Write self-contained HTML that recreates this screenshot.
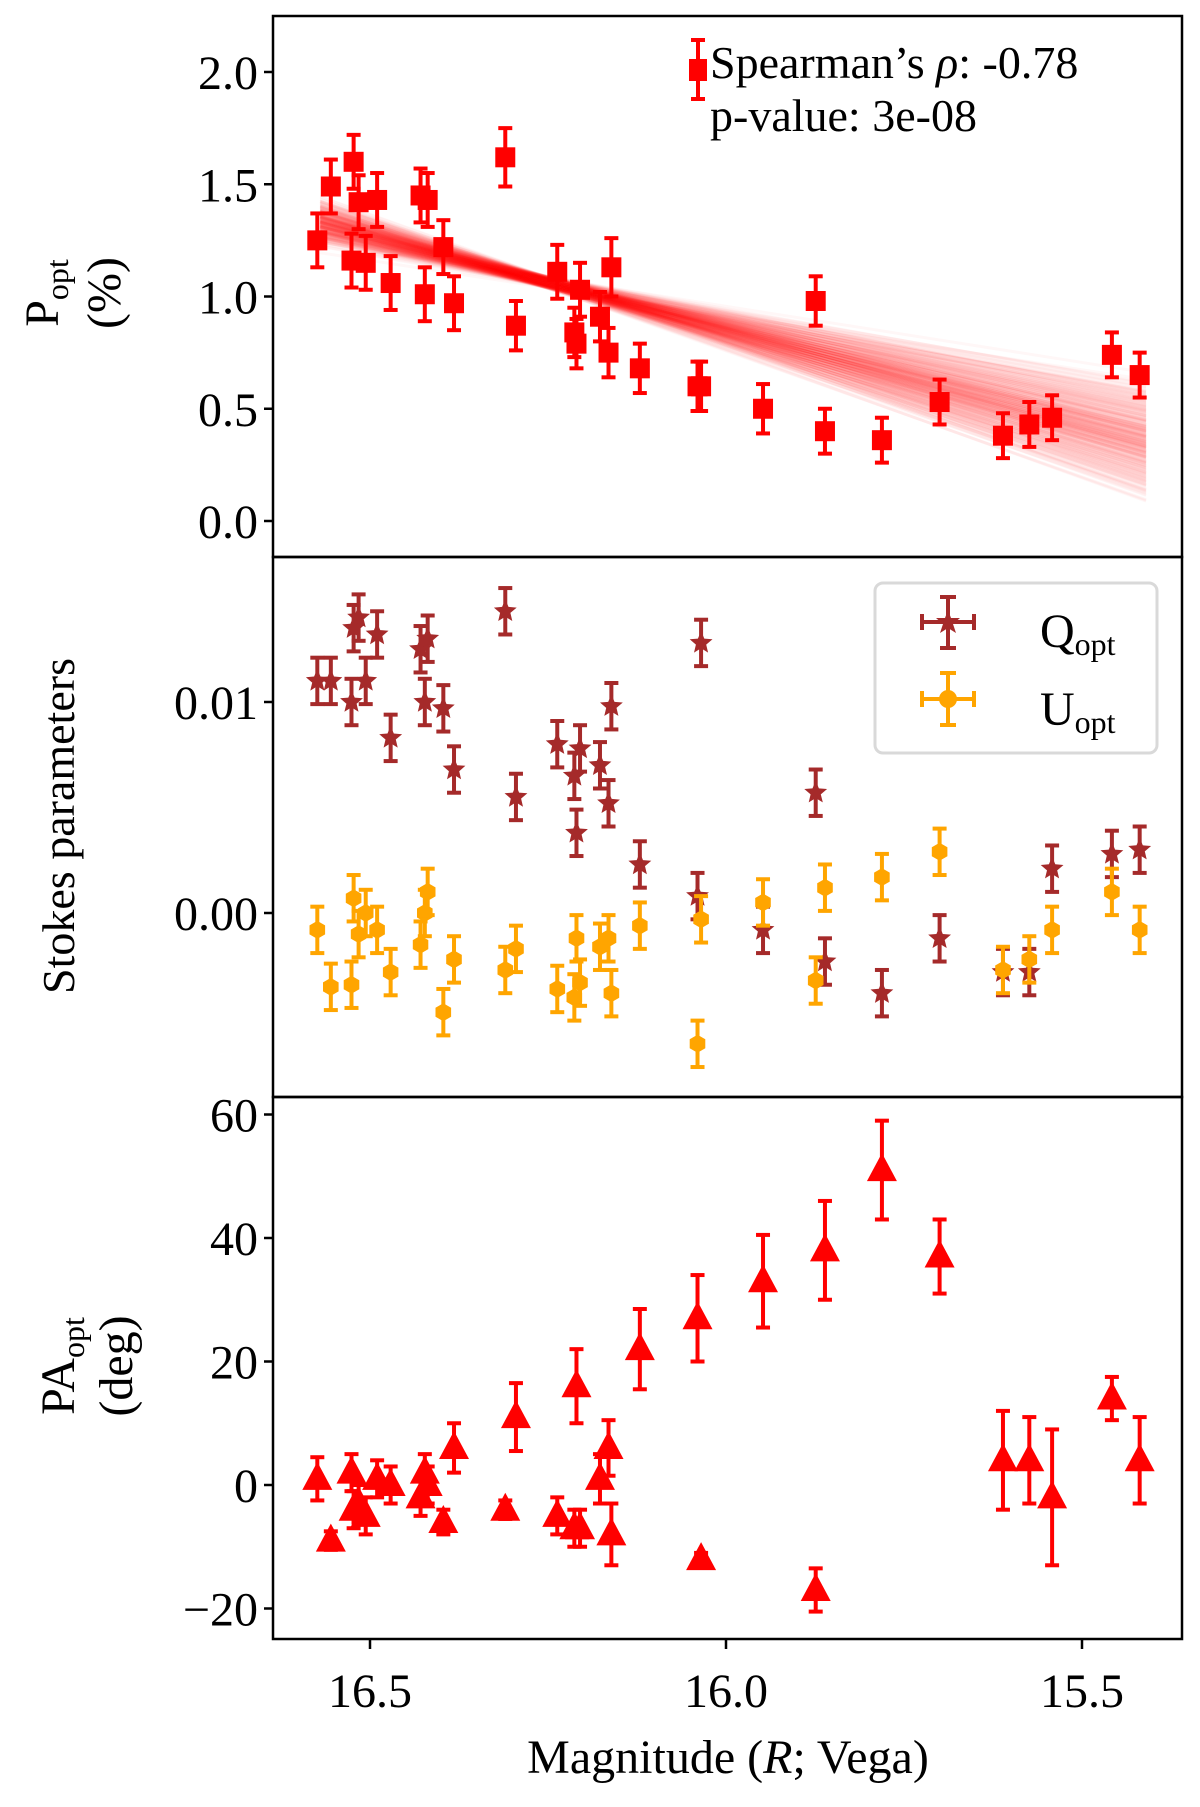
<!DOCTYPE html>
<html><head><meta charset="utf-8">
<style>
html,body{margin:0;padding:0;background:#fff;}
svg, svg text{font-family:"Liberation Serif","DejaVu Serif",serif;}
</style></head>
<body>
<svg id="chart" width="1200" height="1802" viewBox="0 0 1200 1802" xmlns="http://www.w3.org/2000/svg" font-family="Liberation Serif, DejaVu Serif, serif">
</svg>
<script>
// ---- data ----
const dispX = [276,288,306,308,312,318,328,340,366,370,372,386,395,440,449,485,500,502,505,522,530,532,557,610,607,664,710,718,768,818,873,896,916,968,992];
const magnitudes = dispX.map(d => +(16 - (d - 632) / 620).toFixed(3));
const polDeg = [1.25,1.49,1.16,1.60,1.42,1.15,1.43,1.06,1.45,1.01,1.43,1.22,0.97,1.62,0.87,1.11,0.84,0.79,1.03,0.91,0.75,1.13,0.68,0.60,0.60,0.50,0.98,0.40,0.36,0.53,0.38,0.43,0.46,0.74,0.65];
const polErr = [0.12,0.12,0.12,0.12,0.12,0.12,0.12,0.12,0.12,0.12,0.12,0.12,0.12,0.13,0.11,0.12,0.11,0.11,0.12,0.11,0.11,0.13,0.11,0.11,0.11,0.11,0.11,0.10,0.10,0.10,0.10,0.10,0.10,0.10,0.10];
const stokesQ = [0.011,0.011,0.010,0.0135,0.014,0.011,0.0132,0.0083,0.0125,0.010,0.013,0.0097,0.0068,0.0143,0.0055,0.008,0.0065,0.0038,0.0078,0.007,0.0052,0.0098,0.0023,0.0128,0.0008,-0.0008,0.0057,-0.0023,-0.0038,-0.0012,-0.0028,-0.0028,0.0021,0.0028,0.003];
const stokesU = [-0.0008,-0.0035,-0.0034,0.0007,-0.001,0,-0.0008,-0.0028,-0.0015,0,0.001,-0.0047,-0.0022,-0.0027,-0.0017,-0.0036,-0.004,-0.0012,-0.0033,-0.0016,-0.0012,-0.0038,-0.0006,-0.0003,-0.0062,0.0005,-0.0032,0.0012,0.0017,0.0029,-0.0027,-0.0022,-0.0008,0.001,-0.0008];
const stokesErr = 0.0011;
const angleDeg = [1,-9,2,-4,-3,-5,1,0,-2,2,0,-6,6,-4,11,-5,-7,16,-7,1,6,-8,22,-12,27,33,-17,38,51,37,4,4,-2,14,4];
const angleErr = [3.5,1.5,3,3,3,3,3,3,3,3,3,2,4,1.5,5.5,3,3,6,3,4,4.5,5,6.5,1,7,7.5,3.5,8,8,6,8,7,11,3.5,7];
const xTicks = [16.5,16.0,15.5];
const pTicks = [0.0,0.5,1.0,1.5,2.0];
const sTicks = [0.00,0.01];
const aTicks = [-20,0,20,40,60];

// ---- axes ----
const L=273,R=1182;
const xs = m => 726 + (16.0 - m) * 712;
const yP = v => 521 - v * 224.5;
const yS = v => 913 - v * 21100;
const yA = v => 1485 - v * 6.175;
const panels=[[16,557],[557,1097],[1097,1639]];
const FF='Liberation Serif, DejaVu Serif, serif';

const svg=document.getElementById('chart');
const NS='http://www.w3.org/2000/svg';
function mk(tag,attrs,parent){const e=document.createElementNS(NS,tag);for(const k in attrs)e.setAttribute(k,attrs[k]);(parent||svg).appendChild(e);return e;}

// regression posterior fan in panel 1 (derived band)
const fan=mk('g',{});


for(let i=0;i<300;i++){
  const a=((i*0.618034)%1), b=((i*0.754877)%1), c=((i*0.569840)%1);
  const t=(a+b-1);           // triangular in [-1,1]
  const u=(c-0.5);
  const yl=1.33+0.11*t+0.05*u, yr=0.36-0.30*t+0.06*u;
  mk('line',{x1:xs(16.57),y1:yP(yl),x2:xs(15.41),y2:yP(yr),stroke:'#ff0000','stroke-opacity':0.03,'stroke-width':3},fan);
}

function errV(g,x,y1,y2,c){mk('line',{x1:x,y1:y1,x2:x,y2:y2,stroke:c,'stroke-width':4},g);mk('line',{x1:x-7,y1:y1,x2:x+7,y2:y1,stroke:c,'stroke-width':4},g);mk('line',{x1:x-7,y1:y2,x2:x+7,y2:y2,stroke:c,'stroke-width':4},g);}
function star(x,y,r){let p=[];for(let i=0;i<10;i++){const a=-Math.PI/2+i*Math.PI/5;const rr=i%2?r*0.45:r;p.push((x+rr*Math.cos(a)).toFixed(1)+','+(y+rr*Math.sin(a)).toFixed(1));}return p.join(' ');}
function hexa(x,y,r){let p=[];for(let i=0;i<6;i++){const a=-Math.PI/2+i*Math.PI/3;p.push((x+r*Math.cos(a)).toFixed(1)+','+(y+r*Math.sin(a)).toFixed(1));}return p.join(' ');}

// panel 1 points
const g1=mk('g',{});


magnitudes.forEach((m,i)=>{const x=xs(m),y=yP(polDeg[i]);errV(g1,x,yP(polDeg[i]+polErr[i]),yP(polDeg[i]-polErr[i]),'#ff0000');
  const r=mk('rect',{x:x-10,y:y-10,width:20,height:20,fill:'#ff0000'},g1);
  
  });

// panel 2
const g2=mk('g',{});


magnitudes.forEach((m,i)=>{const x=xs(m),y=yS(stokesQ[i]);errV(g2,x,yS(stokesQ[i]+stokesErr),yS(stokesQ[i]-stokesErr),'#a52a2a');
  const s=mk('polygon',{points:star(x,y,12),fill:'#a52a2a'},g2);
  
  });
magnitudes.forEach((m,i)=>{const x=xs(m),y=yS(stokesU[i]);errV(g2,x,yS(stokesU[i]+stokesErr),yS(stokesU[i]-stokesErr),'#ffa500');
  const h=mk('polygon',{points:hexa(x,y,9),fill:'#ffa500'},g2);
  
  });

// panel 3
const g3=mk('g',{});


magnitudes.forEach((m,i)=>{const x=xs(m),y=yA(angleDeg[i]);errV(g3,x,yA(angleDeg[i]+angleErr[i]),yA(angleDeg[i]-angleErr[i]),'#ff0000');
  const t=mk('polygon',{points:`${x},${y-17} ${x+15},${y+11} ${x-15},${y+11}`,fill:'#ff0000'},g3);
  
  });

// frames
panels.forEach(([t,b])=>mk('rect',{x:L,y:t,width:R-L,height:b-t,fill:'none',stroke:'#000','stroke-width':2.5}));

function ytick(y,label){mk('line',{x1:L-9,y1:y,x2:L,y2:y,stroke:'#000','stroke-width':2.5});const t=mk('text',{x:L-15,y:y+17,'text-anchor':'end','font-size':48,'font-family':FF});t.textContent=label;}
pTicks.forEach(v=>ytick(yP(v),v.toFixed(1)));
sTicks.forEach(v=>ytick(yS(v),v.toFixed(2)));
aTicks.forEach(v=>ytick(yA(v),v<0?'\u2212'+(-v):String(v)));
xTicks.forEach(v=>{const x=xs(v);mk('line',{x1:x,y1:1639,x2:x,y2:1649,stroke:'#000','stroke-width':2.5});const t=mk('text',{x:x,y:1707,'text-anchor':'middle','font-size':48,'font-family':FF});t.textContent=v.toFixed(1);});
</script>
<script>
(function(){
const svg=document.getElementById('chart');
const add=(html)=>svg.insertAdjacentHTML('beforeend',html);
const F='font-family="Liberation Serif, DejaVu Serif, serif"';
add(`<text ${F} x="728" y="1773" text-anchor="middle" font-size="48">Magnitude (<tspan font-style="italic">R</tspan>; Vega)</text>`);
add(`<g transform="translate(58,293) rotate(-90)"><text ${F} text-anchor="middle" font-size="48">P<tspan font-size="32" dy="10">opt</tspan></text></g>
<g transform="translate(120,293) rotate(-90)"><text ${F} text-anchor="middle" font-size="48">(%)</text></g>
<g transform="translate(74,826) rotate(-90)"><text ${F} text-anchor="middle" font-size="46">Stokes parameters</text></g>
<g transform="translate(74,1366) rotate(-90)"><text ${F} text-anchor="middle" font-size="48">PA<tspan font-size="32" dy="10">opt</tspan></text></g>
<g transform="translate(132,1366) rotate(-90)"><text ${F} text-anchor="middle" font-size="48">(deg)</text></g>`);
add(`<g>
<line x1="698" y1="40" x2="698" y2="99" stroke="#f00" stroke-width="4"/><line x1="691" y1="40" x2="705" y2="40" stroke="#f00" stroke-width="4"/><line x1="691" y1="99" x2="705" y2="99" stroke="#f00" stroke-width="4"/>
<rect x="689" y="59" width="18" height="22" fill="#f00"/>
<text ${F} x="710" y="78" font-size="46">Spearman’s <tspan font-style="italic">ρ</tspan>: -0.78</text>
<text ${F} x="710" y="131" font-size="46">p-value: 3e-08</text></g>`);
add(`<g>
<rect x="875" y="583" width="282" height="170" rx="8" fill="#fff" fill-opacity="0.8" stroke="#d9d9d9" stroke-width="3"/>
<g>
<line x1="948" y1="597" x2="948" y2="648" stroke="#a52a2a" stroke-width="4"/><line x1="922" y1="622" x2="974" y2="622" stroke="#a52a2a" stroke-width="4"/>
<line x1="940" y1="597" x2="956" y2="597" stroke="#a52a2a" stroke-width="4"/><line x1="940" y1="648" x2="956" y2="648" stroke="#a52a2a" stroke-width="4"/>
<line x1="922" y1="614" x2="922" y2="630" stroke="#a52a2a" stroke-width="4"/><line x1="974" y1="614" x2="974" y2="630" stroke="#a52a2a" stroke-width="4"/>
<polygon points="948,610 951,618 960,618 953,624 956,633 948,628 940,633 943,624 936,618 945,618" fill="#a52a2a"/>
<text ${F} x="1040" y="647" font-size="48">Q<tspan font-size="32" dy="8">opt</tspan></text></g>
<g>
<line x1="948" y1="673" x2="948" y2="725" stroke="#ffa500" stroke-width="4"/><line x1="922" y1="699" x2="974" y2="699" stroke="#ffa500" stroke-width="4"/>
<line x1="940" y1="673" x2="956" y2="673" stroke="#ffa500" stroke-width="4"/><line x1="940" y1="725" x2="956" y2="725" stroke="#ffa500" stroke-width="4"/>
<line x1="922" y1="691" x2="922" y2="707" stroke="#ffa500" stroke-width="4"/><line x1="974" y1="691" x2="974" y2="707" stroke="#ffa500" stroke-width="4"/>
<circle cx="948" cy="699" r="9" fill="#ffa500"/>
<text ${F} x="1040" y="725" font-size="48">U<tspan font-size="32" dy="8">opt</tspan></text></g></g>`);
})();
</script>
</body></html>
